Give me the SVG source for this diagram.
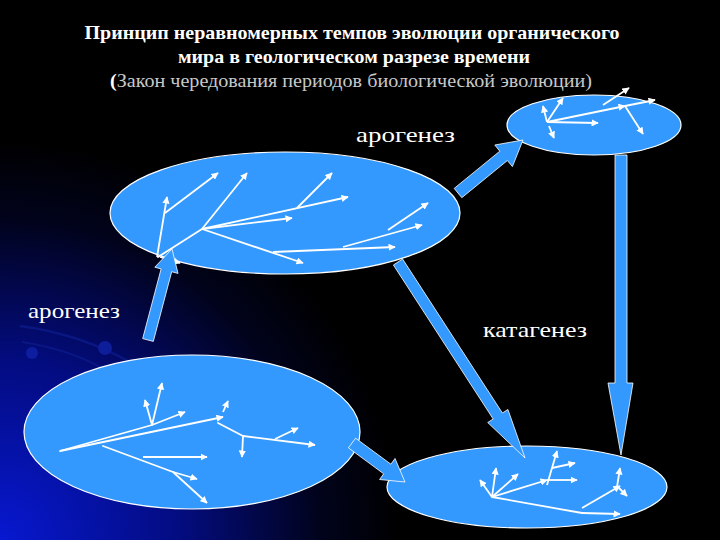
<svg xmlns="http://www.w3.org/2000/svg" width="720" height="540" viewBox="0 0 720 540">
<defs>
<radialGradient id="bg" cx="0" cy="540" r="400" gradientUnits="userSpaceOnUse">
<stop offset="0" stop-color="#0718d0"/>
<stop offset="0.45" stop-color="#030c80"/>
<stop offset="0.8" stop-color="#01031c"/>
<stop offset="1" stop-color="#000"/>
</radialGradient>
<marker id="ah" viewBox="0 0 10 10" refX="9" refY="5" markerWidth="4" markerHeight="4" orient="auto" markerUnits="strokeWidth">
<path d="M0,0 L10,5 L0,10 z" fill="#ffffff"/>
</marker>
<style>
.ell{fill:#3399ff;stroke:#ffffff;stroke-width:1.2}
.blk{fill:#3399ff;stroke:#ffffff;stroke-width:0.8}
.br{stroke:#ffffff;stroke-width:1.8;fill:none;stroke-linecap:round}
.ar{stroke:#ffffff;stroke-width:1.8;fill:none;marker-end:url(#ah)}
.title{font-weight:bold;font-size:19px;fill:#ffffff}
.sub{font-size:19px;fill:#c8c8c8}
.lbl{font-size:22px;fill:#ffffff}
</style>
</defs>
<rect width="720" height="540" fill="#000"/>
<rect width="720" height="540" fill="url(#bg)"/>
<g id="decor" opacity="0.7">
<path d="M20 326 Q80 334 130 362" stroke="#0e1c8c" stroke-width="2.5" fill="none"/>
<path d="M22 342 Q75 350 112 374" stroke="#0e1c8c" stroke-width="2" fill="none"/>
<circle cx="32" cy="353" r="6" fill="#1426b0"/>
<circle cx="105" cy="348" r="7" fill="#1426b0"/>
</g>

<g id="title">
<text class="title" font-family="'Liberation Serif','Times New Roman',Tinos,'DejaVu Serif',serif" x="352" y="39" text-anchor="middle" textLength="535" lengthAdjust="spacingAndGlyphs">Принцип неравномерных темпов эволюции органического</text>
<text class="title" font-family="'Liberation Serif','Times New Roman',Tinos,'DejaVu Serif',serif" x="354" y="63" text-anchor="middle" textLength="352" lengthAdjust="spacingAndGlyphs">мира в геологическом разрезе времени</text>
<text class="sub" font-family="'Liberation Serif','Times New Roman',Tinos,'DejaVu Serif',serif" x="351" y="87" text-anchor="middle" textLength="482" lengthAdjust="spacingAndGlyphs"><tspan fill="#ffffff" font-weight="bold">(</tspan>Закон чередования периодов биологической эволюции)</text>
</g>

<g id="node-top">
<ellipse class="ell" cx="594" cy="125" rx="87" ry="30"/>
<path class="ar" d="M547 122 L563 98"/>
<path class="ar" d="M547 122 L543 106"/>
<path class="ar" d="M547 122 L598 123"/>
<path class="ar" d="M547 122 L625 106"/>
<path class="ar" d="M603 105 L629 88"/>
<path class="ar" d="M625 106 L655 100"/>
<path class="ar" d="M625 106 L643 134"/>
<path class="ar" d="M549 126 L554 138"/>
</g>

<g id="node-mid">
<ellipse class="ell" cx="285" cy="213" rx="175" ry="61"/>
<path class="ar" d="M157 257 L167 197"/>
<path class="ar" d="M165 213 L218 173"/>
<path class="br" d="M158 257 L202 229"/>
<path class="ar" d="M202 229 L247 173"/>
<path class="ar" d="M202 229 L292 218"/>
<path class="ar" d="M202 229 L348 197"/>
<path class="ar" d="M297 208 L332 173"/>
<path class="ar" d="M202 229 L303 263"/>
<path class="ar" d="M273 252 L395 247"/>
<path class="ar" d="M343 247 L422 225"/>
<path class="ar" d="M388 230 L428 203"/>
<path class="ar" d="M160 257 L180 263"/>
</g>

<g id="node-bl">
<ellipse class="ell" cx="192" cy="432" rx="168" ry="77"/>
<path class="br" d="M60 451 L152 425"/>
<path class="ar" d="M152 425 L162 383"/>
<path class="ar" d="M152 425 L145 400"/>
<path class="ar" d="M152 425 L185 412"/>
<path class="ar" d="M60 451 L223 417"/>
<path class="ar" d="M223 412 L228 401"/>
<path class="br" d="M218 423 L243 436"/>
<path class="ar" d="M243 436 L242 457"/>
<path class="ar" d="M243 436 L315 445"/>
<path class="ar" d="M275 439 L298 428"/>
<path class="br" d="M103 446 L173 472"/>
<path class="ar" d="M173 472 L197 479"/>
<path class="ar" d="M173 472 L207 503"/>
<path class="ar" d="M143 457 L207 457"/>
</g>

<g id="node-br">
<ellipse class="ell" cx="527" cy="487" rx="140" ry="41"/>
<path class="ar" d="M492 497 L480 480"/>
<path class="ar" d="M492 497 L496 468"/>
<path class="ar" d="M492 497 L518 474"/>
<path class="ar" d="M492 497 L547 480"/>
<path class="ar" d="M547 485 L557 451"/>
<path class="ar" d="M552 468 L575 463"/>
<path class="ar" d="M547 480 L577 480"/>
<path class="br" d="M492 497 L582 513"/>
<path class="ar" d="M582 513 L620 514"/>
<path class="ar" d="M582 508 L620 486"/>
<path class="ar" d="M617 487 L620 468"/>
<path class="ar" d="M618 487 L627 496"/>
</g>

<g id="connectors">
<polygon class="blk" points="153.3,341.4 171.7,271.7 178,273.4 172,249 154.8,267.2 161.1,268.9 142.7,338.6"/>
<polygon class="blk" points="461.8,197.7 507.4,160.5 512.4,166.6 523,140 494.8,145 499.8,151.2 454.2,188.4"/>
<polygon class="blk" points="393.4,265 493.2,419 487.7,422.5 525,458 507.9,409.5 502.4,413 402.6,259"/>
<polygon class="blk" points="615,155 615,383 608,383 621,455 633,383 627,383 627,155"/>
<polygon class="blk" points="348.4,447.8 383.7,473.8 379.6,479.5 405,482 395,458.5 390.9,464.2 355.6,438.2"/>
</g>

<g id="labels">
<text class="lbl" font-family="'Liberation Serif','Times New Roman',Tinos,'DejaVu Serif',serif" x="356" y="142" textLength="99" lengthAdjust="spacingAndGlyphs">арогенез</text>
<text class="lbl" font-family="'Liberation Serif','Times New Roman',Tinos,'DejaVu Serif',serif" x="28" y="318" textLength="92" lengthAdjust="spacingAndGlyphs">арогенез</text>
<text class="lbl" font-family="'Liberation Serif','Times New Roman',Tinos,'DejaVu Serif',serif" x="483" y="337" textLength="104" lengthAdjust="spacingAndGlyphs">катагенез</text>
</g>
</svg>
